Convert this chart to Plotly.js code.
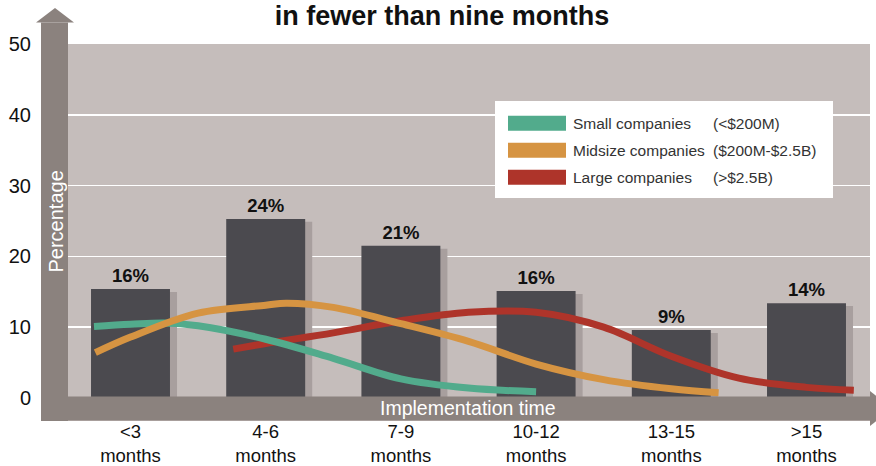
<!DOCTYPE html>
<html>
<head>
<meta charset="utf-8">
<script src="https://cdn.plot.ly/plotly-3.0.1.min.js"></script>
<style>
  html, body { margin: 0; padding: 0; background: #ffffff; }
  #chart { width: 876px; height: 466px; }
</style>
</head>
<body>
<div id="chart"></div>
<script>
// ---------- data ----------
const categories = ['&lt;3<br>months', '4-6<br>months', '7-9<br>months', '10-12<br>months', '13-15<br>months', '&gt;15<br>months'];
const categoryPos = [0, 1, 2, 3, 4, 5];
const barValues = [15.4, 25.3, 21.5, 15.1, 9.6, 13.4];
const barLabels = ['16%', '24%', '21%', '16%', '9%', '14%'];

const smallX = [-0.27, 0, 0.25, 0.5, 1, 1.5, 2, 2.5, 3];
const smallY = [10.1, 10.4, 10.6, 10.2, 8.3, 5.6, 2.7, 1.4, 0.9];

const midX = [-0.26, 0, 0.5, 1, 1.15, 1.5, 2, 2.5, 3, 3.5, 4, 4.35];
const midY = [6.4, 8.6, 12.0, 13.1, 13.4, 12.8, 10.5, 8.0, 4.8, 2.6, 1.3, 0.75];

const largeX = [0.76, 1, 1.5, 2, 2.5, 3, 3.5, 4, 4.5, 5, 5.35];
const largeY = [6.9, 7.7, 9.2, 10.9, 12.1, 12.1, 10.0, 5.9, 2.8, 1.5, 1.1];

const seriesNames = ['Small companies', 'Midsize companies', 'Large companies'];
const seriesRanges = ['(&lt;$200M)', '($200M-$2.5B)', '(&gt;$2.5B)'];
const yTicks = [0, 10, 20, 30, 40, 50];

// ---------- styles ----------
const C_BG = '#c5bdbb';
const C_AXIS = '#8b827e';
const C_BAR = '#4b4a4f';
const C_SHADOW = '#a89f9e';
const seriesColors = ['#52ab8c', '#d69442', '#ae342a'];
const FONT = 'Liberation Sans, Arial, Helvetica, sans-serif';

const W = 876, H = 466;
const M = {l: 68, r: 6, t: 44, b: 45};
const PW = W - M.l - M.r, PH = H - M.t - M.b;
const px = v => (v - M.l) / PW;          // pixel x -> paper x
const py = v => (H - M.b - v) / PH;      // pixel y -> paper y

const BW = 0.584;
const shadowDX = 0.052, shadowDY = 0.42;

const traces = [
  {
    type: 'bar', x: categoryPos, y: barValues.map(v => v - shadowDY),
    width: BW, offset: -BW / 2 + shadowDX,
    marker: {color: C_SHADOW, line: {width: 0}},
    hoverinfo: 'skip', showlegend: false
  },
  {
    type: 'bar', x: categoryPos, y: barValues,
    width: BW, offset: -BW / 2,
    marker: {color: C_BAR, line: {width: 0}},
    text: barLabels, textposition: 'outside', cliponaxis: false,
    textfont: {family: FONT, size: 18.5, color: '#111111', weight: 'bold'},
    showlegend: false
  },
  {
    type: 'scatter', mode: 'lines', x: largeX, y: largeY, name: seriesNames[2],
    line: {color: seriesColors[2], width: 7, shape: 'spline', smoothing: 1},
    showlegend: false
  },
  {
    type: 'scatter', mode: 'lines', x: smallX, y: smallY, name: seriesNames[0],
    line: {color: seriesColors[0], width: 7, shape: 'spline', smoothing: 1},
    showlegend: false
  },
  {
    type: 'scatter', mode: 'lines', x: midX, y: midY, name: seriesNames[1],
    line: {color: seriesColors[1], width: 7, shape: 'spline', smoothing: 1},
    showlegend: false
  }
];

const shapes = [
  // y axis arrow shaft + head
  {type: 'rect', xref: 'paper', yref: 'paper', x0: px(41), x1: px(68), y0: py(421), y1: py(22.5),
   fillcolor: C_AXIS, line: {width: 0}, layer: 'above'},
  {type: 'path', xref: 'paper', yref: 'paper',
   path: `M ${px(36)} ${py(22.5)} L ${px(74)} ${py(22.5)} L ${px(55)} ${py(8)} Z`,
   fillcolor: C_AXIS, line: {width: 0}, layer: 'above'},
  // x axis bar + head
  {type: 'rect', xref: 'paper', yref: 'paper', x0: px(41), x1: px(871), y0: py(420.5), y1: py(396.5),
   fillcolor: C_AXIS, line: {width: 0}, layer: 'above'},
  {type: 'path', xref: 'paper', yref: 'paper',
   path: `M ${px(870)} ${py(391)} L ${px(870)} ${py(426)} L ${px(892)} ${py(408.5)} Z`,
   fillcolor: C_AXIS, line: {width: 0}, layer: 'above'},
  // legend box
  {type: 'rect', xref: 'paper', yref: 'paper', x0: px(495), x1: px(833), y0: py(198), y1: py(101),
   fillcolor: '#ffffff', line: {width: 0}, layer: 'above'}
];

const legendRows = [123.3, 150.3, 177.3];
const annotations = [];
for (let i = 0; i < 3; i++) {
  shapes.push({type: 'rect', xref: 'paper', yref: 'paper',
    x0: px(508), x1: px(566), y0: py(legendRows[i] + 7.5), y1: py(legendRows[i] - 7.5),
    fillcolor: seriesColors[i], line: {width: 0}, layer: 'above'});
  annotations.push({xref: 'paper', yref: 'paper', x: px(570.5), y: py(legendRows[i]),
    xanchor: 'left', yanchor: 'middle', showarrow: false, text: seriesNames[i],
    font: {family: FONT, size: 15.5, color: '#333333'}});
  annotations.push({xref: 'paper', yref: 'paper', x: px(711), y: py(legendRows[i]),
    xanchor: 'left', yanchor: 'middle', showarrow: false, text: seriesRanges[i],
    font: {family: FONT, size: 15.5, color: '#333333'}});
}
annotations.push({xref: 'paper', yref: 'paper', x: px(55), y: py(221.5),
  xanchor: 'center', yanchor: 'middle', showarrow: false, textangle: -90,
  text: 'Percentage', font: {family: FONT, size: 20, color: '#ffffff'}});
annotations.push({xref: 'paper', yref: 'paper', x: px(468), y: py(408),
  xanchor: 'center', yanchor: 'middle', showarrow: false,
  text: 'Implementation time', font: {family: FONT, size: 19.5, color: '#ffffff'}});

const layout = {
  width: W, height: H,
  margin: M,
  paper_bgcolor: '#ffffff',
  plot_bgcolor: C_BG,
  barmode: 'overlay',
  showlegend: false,
  title: {
    text: '<b>in fewer than nine months</b>',
    x: 442 / W, xanchor: 'center', xref: 'container',
    y: 1 - 15.5 / H, yanchor: 'middle', yref: 'container',
    font: {family: FONT, size: 27, color: '#111111'}
  },
  xaxis: {
    range: [-0.4623, 5.4697],
    tickvals: categoryPos, ticktext: categories,
    showgrid: false, zeroline: false, showline: false,
    ticks: 'outside', ticklen: 0, tickcolor: 'rgba(0,0,0,0)',
    ticklabelstandoff: -6,
    tickfont: {family: FONT, size: 18.5, color: '#111111'},
    fixedrange: true
  },
  yaxis: {
    range: [(398 - 421) / 7.08, 50],
    tickvals: yTicks,
    showgrid: true, gridcolor: '#ffffff', gridwidth: 1.5,
    zeroline: false, showline: false,
    ticks: 'outside', ticklen: 0, ticklabelstandoff: 32,
    tickfont: {family: FONT, size: 20, color: '#111111'},
    fixedrange: true
  },
  shapes: shapes,
  annotations: annotations
};

Plotly.newPlot('chart', traces, layout, {displayModeBar: false, staticPlot: true});
</script>
</body>
</html>
